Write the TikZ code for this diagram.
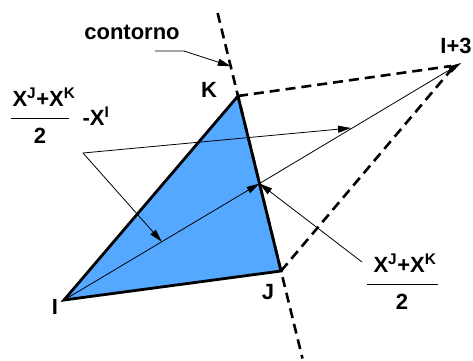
\documentclass[tikz,border=0pt]{standalone}
\usepackage{fontspec}
\setmainfont{Liberation Sans}
\usetikzlibrary{calc,arrows.meta}
\definecolor{trifill}{HTML}{55A8FF}
\tikzset{
  ar/.style={-{Triangle[length=13pt,width=7pt]},line width=0.8pt},
  cont/.style={line width=2.6pt,dash pattern=on 10pt off 6pt},
  lbl/.style={font=\fontsize{22}{24}\selectfont\bfseries,inner sep=0pt}
}
\begin{document}
\begin{tikzpicture}[x=1pt,y=-1pt]
\useasboundingbox (0,0) rectangle (473,360);
\coordinate (I) at (64,300);
\coordinate (J) at (281,271);
\coordinate (K) at (238,96);
\coordinate (M) at ($(J)!0.5!(K)$);
\coordinate (I3) at (461,63);
% triangle and contour
\filldraw[fill=trifill,line width=2.8pt,line join=miter] (I)--(J)--(K)--cycle;
\draw[cont] ($(K)!-0.474!(J)$) -- ($(J)!-0.5!(K)$);
\draw[cont] (K) -- ([shift={(-10,3)}]I3);
\draw[cont] (J) -- ([shift={(-10,7)}]I3);
% vectors
\draw[ar] (I) -- (M);
\draw[ar] (M) -- (I3);
% labels
\node[lbl] (kl) at (209,90) {K};
\node[lbl] (jl) at (268,292) {J};
\node[lbl] (il) at (55,307) {I};
\node[lbl] (i3l) at (456,46) {I+3};
\node[lbl] (cl) at (132,32) {contorno};
\coordinate (cb) at (155,51);
\draw[ar] (cb) -- (184,51) -- ($(K)!-0.17!(J)$);
% left fraction
\node[lbl] (ln) at (44,97) {X\textsuperscript{J}+X\textsuperscript{K}};
\node[lbl] (ld) at (40,136) {2};
\draw[line width=0.8pt] (11,118) -- (69,118);
\node[lbl] (lx) at (96,116) {-X\textsuperscript{I}};
\coordinate (apex) at (83,153);
\draw[ar] (apex) -- (351,128);
\draw[ar] (apex) -- ($(I)!0.5!(M)$);
% right fraction
\node[lbl] (rn) at (405,263) {X\textsuperscript{J}+X\textsuperscript{K}};
\node[lbl] (rd) at (402,302) {2};
\draw[line width=0.8pt] (367,284) -- (438,284);
\coordinate (rb) at (362,262);
\draw[ar] (rb) -- (M);
\end{tikzpicture}
\end{document}
